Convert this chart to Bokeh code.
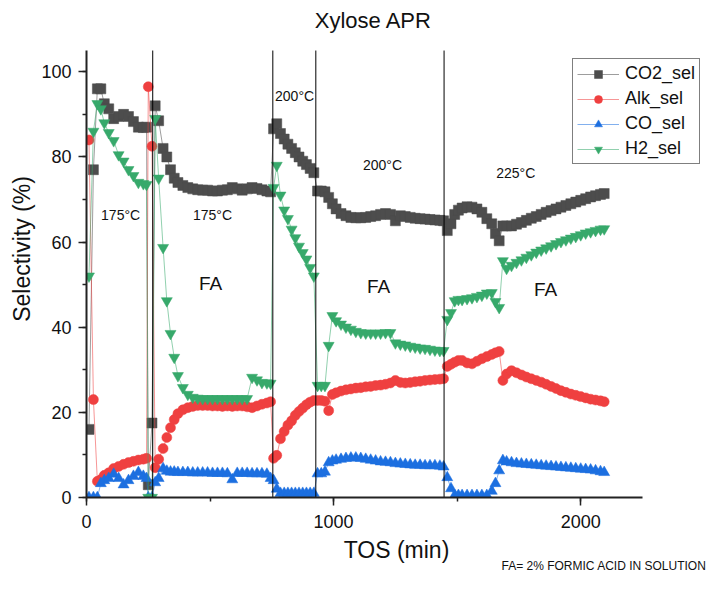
from bokeh.plotting import figure
from bokeh.models import Label, Legend, LegendItem, SingleIntervalTicker, Range1d, Title
from bokeh.embed import file_html
from bokeh.resources import INLINE

# ---------------- data ----------------
tos = [10, 28, 44, 58, 72, 90, 110, 130, 150, 170, 190, 210, 230, 243,
       250, 265, 278, 292,
       310, 325, 340, 355, 370, 390, 410, 430, 450, 470, 490, 510, 530, 550, 570, 590, 610, 630, 650, 670, 690, 710, 730, 745,
       757, 770, 785, 800, 815, 830, 845, 860, 875, 890, 905, 920,
       935, 950, 965, 980, 995, 1010, 1030, 1050, 1070, 1090, 1110, 1130, 1150, 1170, 1190, 1210, 1230, 1250, 1270, 1290,
       1310, 1330, 1350, 1370, 1390, 1410, 1430, 1445,
       1460, 1475, 1490, 1505, 1520, 1540, 1560, 1580, 1600, 1620, 1640, 1655, 1670,
       1685, 1700, 1720, 1740, 1760, 1780, 1800, 1820, 1840, 1860, 1880, 1900, 1920, 1940, 1960, 1980, 2000, 2020, 2040,
       2060, 2080, 2095]

co2_sel = [16, 77, 96, 96, 92.5, 91.3, 89, 89.5, 90, 89.5, 88.3, 87, 86.9, 87,
           3, 17.5, 92, 88.5,
           82, 80, 77, 75, 74, 73.3, 72.8, 72.5, 72.3, 72.2, 72.2, 72.0, 72.0, 72.2, 72.3, 72.8, 72.5, 72.2, 72.5, 72.8, 72.6, 72.3, 72.0, 71.8,
           86.6, 87.8, 85.5, 84.2, 83, 82, 81, 80, 79, 78.2, 77.3, 76.3,
           72, 72, 71.8, 70.5, 69, 67.8, 66.7, 66.2, 65.8, 65.7, 65.7, 65.8, 66, 66.2, 66.5, 66.7, 66.5, 65, 66.2, 66,
           65.8, 65.6, 65.5, 65.4, 65.3, 65.2, 65.1, 65,
           62.7, 64.3, 66.5, 67.5, 68, 68.3, 68.2, 67.8, 67, 65.5, 64.3, 62, 60.3,
           63.8, 63.8, 63.8, 64.2, 64.6, 65.1, 65.6, 66, 66.5, 67, 67.4, 67.8, 68.2, 68.6, 69, 69.4, 69.8, 70.2, 70.6,
           70.9, 71.2, 71.4]

alk_sel = [84, 23, 3.8, 4.2, 5.2, 5.8, 6.8, 7.3, 7.8, 8.2, 8.5, 8.8, 9, 9.2,
           96.5, 82.5, 7, 9,
           11.5, 14.1, 16.4, 18.3, 19.7, 20.6, 21.1, 21.4, 21.6, 21.6, 21.6, 21.5, 21.5, 21.4, 21.5, 21.4, 21.5, 21.5, 21.3, 21.1, 21.5, 21.9, 22.2, 22.5,
           9.2, 9.9, 13.8, 15.5, 17, 18, 19.3, 20.2, 21, 21.8, 22.4, 22.8,
           22.8, 22.8, 22.6, 20.4, 24.2, 24.6, 25, 25.3, 25.5, 25.7, 25.8, 26, 26.1, 26.3, 26.4, 26.6, 26.9, 27.5, 27, 26.9,
           27, 27.2, 27.3, 27.5, 27.6, 27.7, 27.8, 27.9,
           30.8, 31.3, 31.8, 32.2, 32.2, 31.6, 31.4, 32, 32.6, 33.1, 33.6, 34, 34.3,
           27.5, 29, 29.8, 29.3, 28.8, 28.3, 27.9, 27.5, 27.1, 26.6, 26.1, 25.6, 25.1, 24.7, 24.3, 24, 23.7, 23.4, 23.1,
           22.9, 22.7, 22.5]

co_sel = [0, 0, 0, 3.3, 4, 4.5, 5.5, 4.5, 3, 4, 5, 5.9, 5, 4.5,
          0, 0, 3.5, 4.5,
          6.8, 6.2, 6, 6, 5.9, 5.9, 5.9, 5.8, 5.8, 5.8, 5.8, 5.7, 5.7, 5.7, 5.6, 4.2, 5.7, 5.7, 5.7, 5.6, 5.6, 5.6, 5.5, 4.5,
          4, 2, 1, 1, 1, 1, 1, 1, 1, 1, 1, 1,
          5.6, 5.6, 6, 8.2, 8.6, 8.8, 9, 9.2, 9.3, 9.3, 9.2, 9, 8.8, 8.6, 8.4, 8.3, 8.2, 8, 7.9, 7.8,
          7.7, 7.6, 7.6, 7.5, 7.5, 7.5, 7.4, 7.2,
          4.7, 2.1, 0.5, 0.5, 0.5, 0.5, 0.5, 0.5, 0.5, 0.5, 1.5, 3.3, 6.3,
          8.7, 8.4, 8.2, 8, 7.9, 7.8, 7.7, 7.6, 7.5, 7.4, 7.3, 7.2, 7.1, 7, 6.9, 6.8, 6.7, 6.6, 6.5,
          6.3, 6.1, 5.9]

h2_sel = [52, 86, 92.5, 91.3, 88, 85.7, 83.8, 80.5, 79, 77, 75.6, 74, 73.7, 73.5,
          0, 0, 89, 75,
          58.7, 46.2, 38.5, 32.9, 28.6, 25.8, 24.2, 23.5, 23.3, 23.2, 23.2, 23.2, 23.2, 23.2, 23.2, 23.2, 23.2, 23.2, 23.2, 28.2, 27.6, 27, 26.9, 26.8,
          72.8, 78, 71, 67.5, 65.5, 63, 61, 59, 57.5, 56, 54, 52,
          26.3, 26.3, 26.3, 35.7, 42.7, 41.5, 40.7, 40, 39.5, 39, 38.7, 38.6, 38.6, 38.6, 38.6, 38.7, 38.7, 36.3, 36, 35.8,
          35.5, 35.3, 35.1, 35, 34.8, 34.6, 34.5, 34.5,
          41.8, 43.4, 46.2, 46.5, 46.5, 46.7, 46.9, 47.2, 47.5, 48, 48.1, 46, 44.6,
          55.6, 53.8, 54.5, 55.2, 55.8, 56.4, 57, 57.6, 58.1, 58.6, 59.1, 59.6, 60.1, 60.5, 60.9, 61.3, 61.7, 62.1, 62.4,
          62.7, 63, 63.1]

series_names = ["CO2_sel", "Alk_sel", "CO_sel", "H2_sel"]
series_colors = ["#4d4d4d", "#ef4040", "#1c6fe0", "#37a96b"]
series_markers = ["square", "circle", "triangle", "inverted_triangle"]
series_sizes = [10, 10, 11, 11]

change_points = [268, 754, 928, 1447]

temp_labels = ["175°C", "175°C", "200°C", "200°C", "225°C"]
temp_x = [138, 510, 842, 1198, 1737]
temp_y = [66.4, 66.4, 94.4, 78.2, 76.3]

fa_x = [502, 1182, 1858]
fa_y = [50.2, 49.5, 48.8]

x_axis_end = 2250      # end of the drawn x axis
y_axis_end = 105       # end of the drawn y axis
FONT = "Liberation Sans"

# Frame spans the canvas top (title drawn inside) and extends right (legend inside);
# the axes are drawn only over their bounds.
p = figure(width=708, height=575, output_backend="svg", toolbar_location=None,
           x_range=Range1d(0, 2509), y_range=Range1d(0, 116.75),
           min_border_left=86, min_border_right=2, min_border_top=0, min_border_bottom=78)

p.xgrid.visible = False
p.ygrid.visible = False
p.outline_line_color = None
p.background_fill_color = "white"
p.border_fill_color = "white"

p.xaxis.ticker = SingleIntervalTicker(interval=1000, num_minor_ticks=2)
p.yaxis.ticker = SingleIntervalTicker(interval=20, num_minor_ticks=2)
p.xaxis.bounds = (0, x_axis_end)
p.yaxis.bounds = (0, y_axis_end)

for ax in (p.xaxis[0], p.yaxis[0]):
    ax.axis_line_width = 2
    ax.axis_line_color = "#222222"
    ax.major_tick_line_width = 1.5
    ax.minor_tick_line_width = 1.5
    ax.major_tick_line_color = "#222222"
    ax.minor_tick_line_color = "#222222"
    ax.major_tick_out = 8
    ax.major_tick_in = 0
    ax.minor_tick_out = 4
    ax.minor_tick_in = 0
    ax.major_label_text_font = FONT
    ax.major_label_text_font_size = "18px"
    ax.major_label_text_color = "#111111"
    ax.axis_label_text_font = FONT
    ax.axis_label_text_font_size = "23px"
    ax.axis_label_text_font_style = "normal"
    ax.axis_label_text_color = "#111111"

p.xaxis.axis_label = "TOS (min)"
p.yaxis.axis_label = "Selectivity (%)"
p.xaxis.major_label_standoff = 9
p.xaxis.axis_label_standoff = 6
p.yaxis.major_label_standoff = 7
p.yaxis.axis_label_standoff = 3

values = [co2_sel, alk_sel, co_sel, h2_sel]
items = []
for name, vals, col, mk, sz in zip(series_names, values, series_colors, series_markers, series_sizes):
    lr = p.line(tos, vals, line_color=col, line_alpha=0.55, line_width=1)
    sr = p.scatter(tos, vals, marker=mk, size=sz, fill_color=col, line_color=col, line_width=0.5)
    items.append(LegendItem(label=name, renderers=[lr, sr]))

# vertical condition-change lines, spanning the y axis
p.segment(x0=change_points, y0=[0] * len(change_points), x1=change_points,
          y1=[y_axis_end] * len(change_points), line_color="black", line_width=1)

# chart title, inside the extended frame above the axis
p.add_layout(Label(x=1161, y=112.0, text="Xylose APR", text_align="center", text_baseline="middle",
                   text_font=FONT, text_font_size="22px", text_color="#111111"))

for t, x, y in zip(temp_labels, temp_x, temp_y):
    p.add_layout(Label(x=x, y=y, text=t, text_align="center", text_baseline="middle",
                       text_font=FONT, text_font_size="14px", text_color="#111111"))

for x, y in zip(fa_x, fa_y):
    p.add_layout(Label(x=x, y=y, text="FA", text_align="center", text_baseline="middle",
                       text_font=FONT, text_font_size="19px", text_color="#111111"))

foot = Title(text="FA= 2% FORMIC ACID IN SOLUTION", align="right", vertical_align="top", text_font=FONT,
             text_font_size="12px", text_font_style="normal", text_color="#111111", standoff=-14)
p.add_layout(foot, "below")

legend = Legend(items=items, location=(486, 333))
legend.label_text_font = FONT
legend.label_text_font_size = "18px"
legend.label_text_color = "#111111"
legend.label_height = 20
legend.glyph_height = 20
legend.glyph_width = 42
legend.spacing = 4
legend.padding = 4
legend.margin = 0
legend.label_standoff = 6
legend.border_line_color = "black"
legend.border_line_width = 1
legend.background_fill_color = "white"
legend.background_fill_alpha = 1
p.add_layout(legend)

open("out.html", "w").write(file_html(p, INLINE))
